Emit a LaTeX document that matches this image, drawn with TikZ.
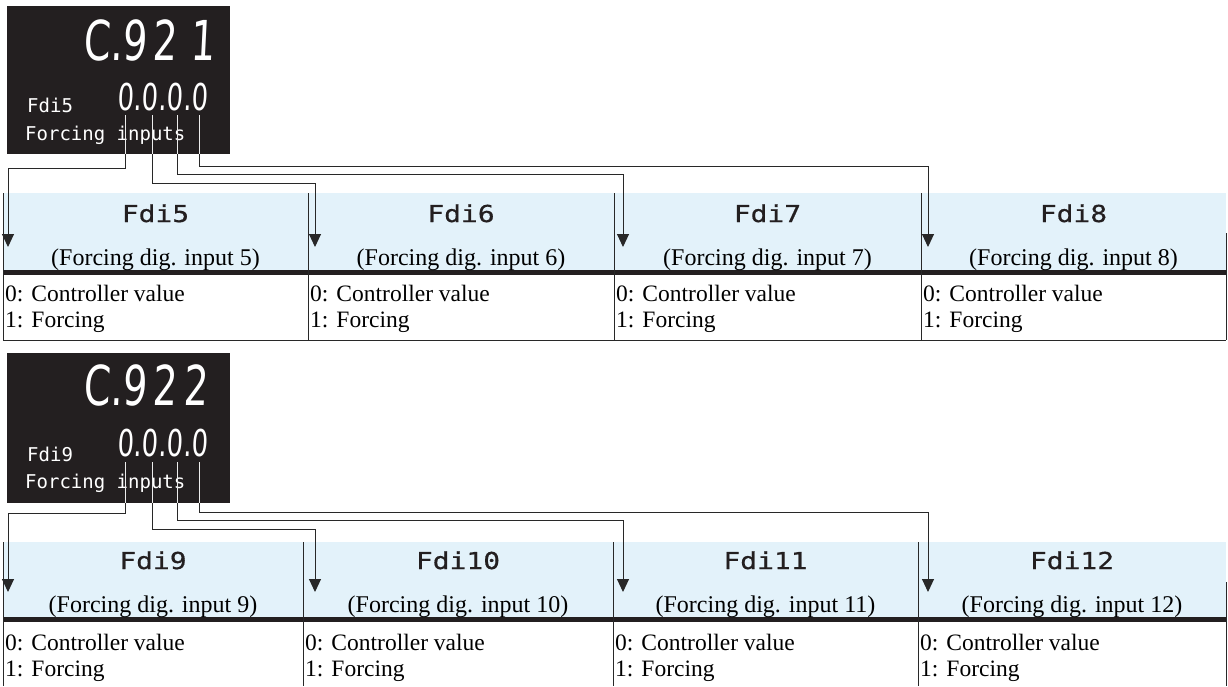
\documentclass[tikz,border=0pt]{standalone}
\usepackage{fontspec}
\setmainfont{Liberation Serif}
\newfontfamily\segfont[FakeStretch=0.7,FakeSlant=0.05]{DejaVu Sans}
\newfontfamily\dotfont{DejaVu Sans Mono}
\newfontfamily\dotwide[FakeStretch=1.2,FakeBold=0.6]{DejaVu Sans Mono}
\usetikzlibrary{arrows.meta}
\definecolor{hdrblue}{RGB}{227,242,250}
\definecolor{lcd}{RGB}{35,31,32}
\definecolor{linec}{RGB}{40,40,40}
\begin{document}
\begin{tikzpicture}[x=1pt,y=-1pt,
 lcdbox/.style={fill=lcd,draw=none,inner sep=0,outer sep=0,minimum width=223pt,minimum height=148pt,anchor=north west},
 segbig/.style={text=white,inner sep=0,anchor=base west,font=\segfont\fontsize{55}{55}\selectfont},
 segsmall/.style={text=white,inner sep=0,anchor=base west,font=\segfont\fontsize{37}{37}\selectfont},
 lcdlabel/.style={text=white,inner sep=0,anchor=base west,font=\dotfont\fontsize{19}{19}\selectfont},
 hdrlabel/.style={text=lcd,inner sep=0,anchor=base,font=\dotwide\fontsize{23.3}{24}\selectfont},
 sublabel/.style={inner sep=0,anchor=base,font=\fontsize{24}{24}\selectfont},
 bodylabel/.style={inner sep=0,anchor=base west,font=\fontsize{23.5}{26}\selectfont},
 wirein/.style={draw=white!85!gray,line width=0.9pt},
 conn/.style={draw=linec,line width=1pt,-{Triangle[length=13pt,width=12pt]}},
 gridline/.style={draw=linec,line width=1pt},
 thickline/.style={draw=lcd,line width=5pt},
]
\useasboundingbox[fill=white] (0,0) rectangle (1228,686);

% ---------- first display ----------
\node[lcdbox] (D1) at (7,6) {};
\node[segbig] (D1code) at (83,60) {C.9\hspace{6pt}2\hspace{13pt}1};
\node[segsmall] (D1val) at (117,110) {0.0.0.0};
\node[lcdlabel] (D1par) at (27,112) {Fdi5};
\node[lcdlabel] (D1desc) at (25,140) {Forcing inputs};

% ---------- first table ----------
\fill[hdrblue] (3,193) rectangle (1226,270);
\draw[thickline] (3,272.5) -- (1226,272.5);
\draw[gridline] (3,340) -- (1226,340);
\foreach \xv in {3,308,614,921} {\draw[gridline] (\xv,193) -- (\xv,340);}
\draw[gridline] (1226,233) -- (1226,340);
\foreach \n/\xl/\xr in {5/3/308,6/308/614,7/614/921,8/921/1226} {
  \node[hdrlabel] (hA\n) at ({(\xl+\xr)/2},222) {Fdi\n};
  \node[sublabel] (sA\n) at ({(\xl+\xr)/2},265) {(Forcing dig. input \n)};
  \node[bodylabel] (bA\n a) at ({\xl+2},301) {0:\hspace{8pt}Controller value};
  \node[bodylabel] (bA\n b) at ({\xl+2},327) {1:\hspace{8pt}Forcing};
}
\foreach \k/\sx/\ky/\ax in {1/125/168/8,2/152/183/315,3/177/174/623,4/199/166/928} {
  \coordinate (wsA\k) at (\sx,115);
  \coordinate (weA\k) at (\sx,154);
  \coordinate (qA\k) at (\ax,\ky);
  \coordinate (tA\k) at (\ax,247);
  \draw[wirein] (wsA\k) -- (weA\k);
  \draw[conn] (weA\k) |- (qA\k) -- (tA\k);
}

% ---------- second display ----------
\node[lcdbox,minimum height=150pt] (D2) at (7,353) {};
\node[segbig] (D2code) at (83,405) {C.9\hspace{6pt}2\hspace{6pt}2};
\node[segsmall] (D2val) at (117,456) {0.0.0.0};
\node[lcdlabel] (D2par) at (27,461) {Fdi9};
\node[lcdlabel] (D2desc) at (25,488) {Forcing inputs};

% ---------- second table ----------
\fill[hdrblue] (3,542) rectangle (1226,617);
\draw[thickline] (3,619.5) -- (1226,619.5);
\foreach \xv in {3,303,613,918} {\draw[gridline] (\xv,542) -- (\xv,686);}
\draw[gridline] (1226,582) -- (1226,686);
\foreach \n/\xl/\xr in {9/3/303,10/303/613,11/613/918,12/918/1226} {
  \node[hdrlabel] (hB\n) at ({(\xl+\xr)/2},569) {Fdi\n};
  \node[sublabel] (sB\n) at ({(\xl+\xr)/2},612) {(Forcing dig. input \n)};
  \node[bodylabel] (bB\n a) at ({\xl+2},650) {0:\hspace{8pt}Controller value};
  \node[bodylabel] (bB\n b) at ({\xl+2},676) {1:\hspace{8pt}Forcing};
}
\foreach \k/\sx/\ky/\ax in {1/125/513/8,2/152/529/315,3/177/520/623,4/199/512/928} {
  \coordinate (wsB\k) at (\sx,462);
  \coordinate (weB\k) at (\sx,503);
  \coordinate (qB\k) at (\ax,\ky);
  \coordinate (tB\k) at (\ax,592);
  \draw[wirein] (wsB\k) -- (weB\k);
  \draw[conn] (weB\k) |- (qB\k) -- (tB\k);
}
\end{tikzpicture}
\end{document}
